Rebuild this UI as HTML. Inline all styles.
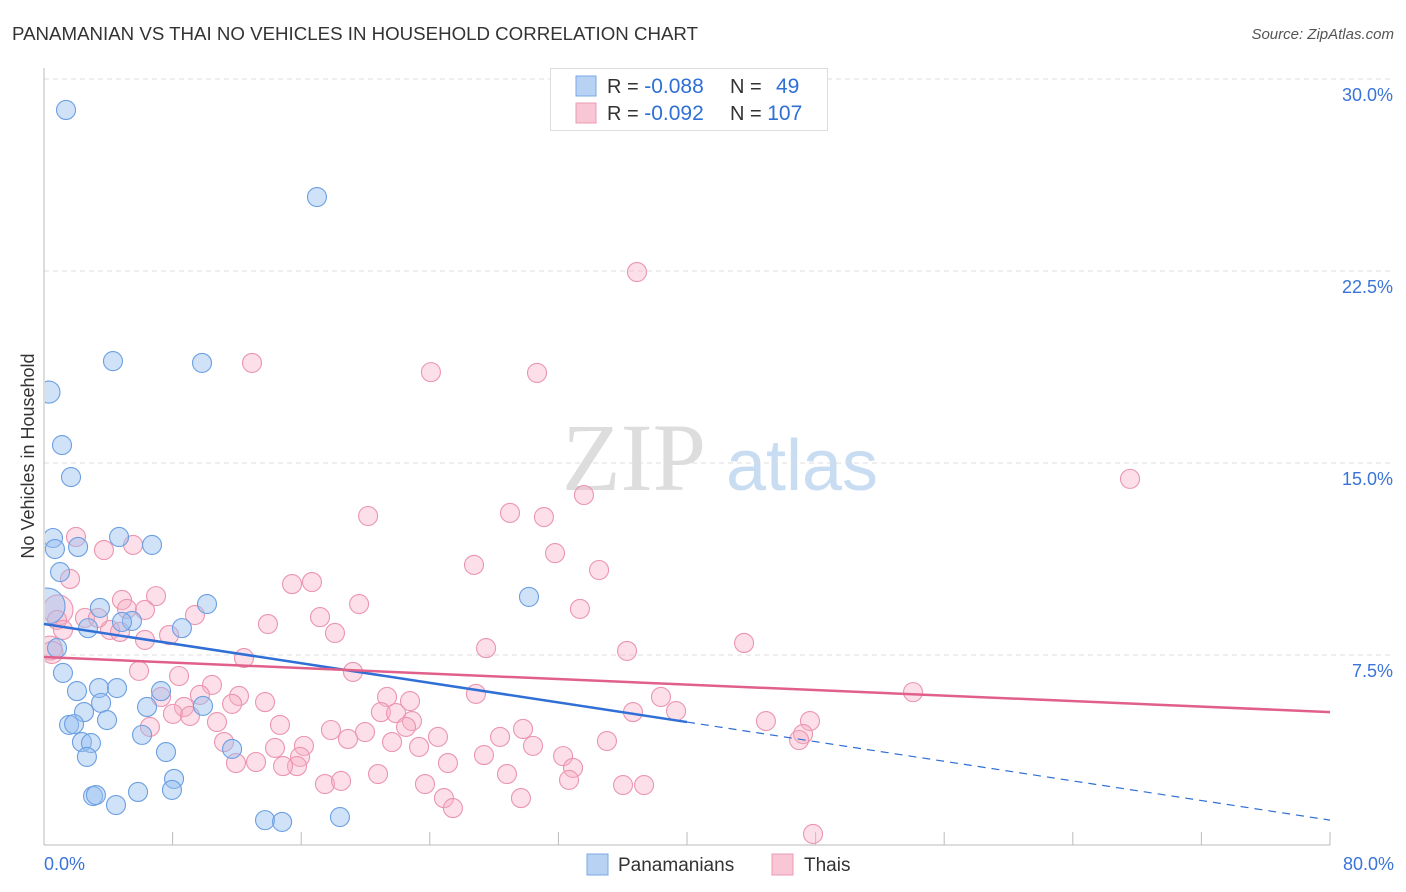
<!DOCTYPE html>
<html><head><meta charset="utf-8"><style>
body{margin:0;background:#fff;font-family:"Liberation Sans",sans-serif;}
svg{display:block}
</style></head><body>
<svg id="chart" width="1406" height="892">
<defs><clipPath id="plotclip"><rect x="45" y="60" width="1360" height="786"/></clipPath></defs>
<text x="12" y="40" font-size="18" fill="#333" textLength="686" lengthAdjust="spacingAndGlyphs">PANAMANIAN VS THAI NO VEHICLES IN HOUSEHOLD CORRELATION CHART</text>
<text x="1394" y="39" font-size="15" fill="#555" font-style="italic" text-anchor="end">Source: ZipAtlas.com</text>
<text transform="translate(34,456) rotate(-90)" font-size="18" fill="#333" text-anchor="middle">No Vehicles in Household</text>
<g>
<text x="634" y="490" font-size="96" font-family="Liberation Serif,serif" fill="#ddd" text-anchor="middle">ZIP</text>
<text x="802" y="490" font-size="72" fill="#c8dcf2" text-anchor="middle">atlas</text>
</g>
<g id="grid"></g><g id="axes"></g><g id="pts" clip-path="url(#plotclip)"></g><g id="lines"></g>
<g>
<rect x="550.5" y="68.5" width="277" height="62" fill="#fff" stroke="#ddd"/>
<rect x="576" y="76" width="20" height="20" fill="#b8d2f4" stroke="#7aa8e6"/>
<rect x="576" y="103" width="20" height="20" fill="#f9c6d5" stroke="#ec9ab2"/>
<text x="607" y="93" font-size="20" fill="#333">R = <tspan fill="#2f6fd6" font-size="21">-0.088</tspan></text>
<text x="730" y="93" font-size="20" fill="#333">N = <tspan fill="#2f6fd6" x="776" font-size="21">49</tspan></text>
<text x="607" y="120" font-size="20" fill="#333">R = <tspan fill="#2f6fd6" font-size="21">-0.092</tspan></text>
<text x="730" y="120" font-size="20" fill="#333">N = <tspan fill="#2f6fd6" font-size="21">107</tspan></text>
</g>
<g>
<rect x="587" y="854" width="21" height="21" fill="#b8d2f4" stroke="#7aa8e6"/>
<text x="618" y="871" font-size="19" fill="#333">Panamanians</text>
<rect x="772" y="854" width="21" height="21" fill="#f9c6d5" stroke="#ec9ab2"/>
<text x="804" y="871" font-size="19" fill="#333">Thais</text>
</g>
</svg>
<script>
const yTicks=[7.5,15,22.5,30];
const yTickLabels=["7.5%","15.0%","22.5%","30.0%"];
const xTickLabels=["0.0%","80.0%"];
const blueX=[1.37,16.98,4.29,9.83,0.31,1.12,1.68,0.56,0.68,2.12,4.67,6.72,1.00,30.17,10.14,3.48,5.47,4.85,2.74,8.58,0.81,1.18,2.05,3.42,4.54,7.28,2.49,3.55,6.41,9.89,1.56,1.87,3.92,6.10,2.36,2.92,7.59,11.70,2.67,8.09,7.96,5.85,3.05,3.23,4.48,13.75,14.81,18.41,0.19];
const blueY=[28.79,25.39,18.98,18.91,17.77,15.70,14.45,12.07,11.64,11.72,12.11,11.80,10.74,9.77,9.49,9.34,8.83,8.79,8.55,8.55,7.77,6.80,6.09,6.21,6.21,6.09,5.27,5.63,5.47,5.51,4.77,4.80,4.96,4.38,4.10,4.06,3.71,3.83,3.52,2.66,2.23,2.15,1.99,2.03,1.64,1.05,0.98,1.17,9.41];
const pinkX=[36.89,12.94,24.07,30.67,67.56,33.59,20.16,28.99,31.10,1.99,3.73,5.54,31.79,26.75,34.53,1.62,15.43,16.67,6.97,4.85,19.60,33.34,5.16,17.17,9.39,2.55,13.93,0.87,4.11,6.28,7.78,18.10,27.50,43.55,36.27,0.37,12.44,5.91,8.40,19.22,10.45,7.28,12.13,9.70,21.34,26.87,38.38,54.06,13.75,22.77,8.71,11.70,8.02,9.08,20.96,21.90,22.89,36.64,39.32,44.91,47.65,10.76,14.68,17.85,6.59,19.97,22.52,16.17,24.51,28.37,29.80,35.02,47.22,46.97,11.20,14.37,18.91,21.65,23.33,27.37,30.42,32.29,11.94,13.19,15.93,15.74,14.87,25.13,32.91,20.78,28.80,17.48,18.48,23.70,32.66,36.02,37.33,24.88,29.67,25.44,47.84,0.81,3.36,4.73,6.28,1.18,0.5];
const pinkY=[22.46,18.91,18.55,18.52,14.38,13.75,12.93,13.05,12.89,12.11,11.60,11.80,11.48,11.02,10.82,10.47,10.27,10.35,9.80,9.65,9.49,9.30,9.30,8.98,9.06,8.95,8.71,9.26,8.48,8.09,8.28,8.36,7.77,7.97,7.66,7.77,7.38,6.88,6.68,6.84,6.33,5.86,5.90,5.94,5.86,5.98,5.86,6.05,5.66,5.70,5.47,5.59,5.20,5.12,5.27,5.23,4.92,5.27,5.31,4.92,4.92,4.88,4.77,4.57,4.69,4.49,4.69,3.95,4.30,4.30,4.61,4.14,4.41,4.18,4.10,3.87,4.22,4.10,3.91,3.59,3.95,3.55,3.28,3.32,3.52,3.16,3.16,3.28,3.09,2.85,2.85,2.46,2.58,2.46,2.62,2.42,2.42,1.91,1.91,1.52,0.51,8.87,8.95,8.40,9.26,8.48,7.6];
const blueTrend=[8.71,1.05];
const blueSolidEnd=40;
const pinkTrend=[7.42,5.27];
const X0=44,X1=1330,Y0=847,PPY=25.6;
const sx=v=>X0+(X1-X0)*v/80, sy=v=>Y0-v*PPY;
const NS="http://www.w3.org/2000/svg";
function mk(tag,attrs,parent){const e=document.createElementNS(NS,tag);for(const k in attrs)e.setAttribute(k,attrs[k]);document.getElementById(parent).appendChild(e);return e;}
yTicks.forEach((t,i)=>{
 const l=mk('line',{x1:X0,x2:1394,y1:sy(t),y2:sy(t),stroke:'#ddd','stroke-dasharray':'5,4'},'grid');
 
 
 const tx=mk('text',{x:1393,y:sy(t)+22,'font-size':18,fill:'#3a74d8','text-anchor':'end'},'grid');
 tx.textContent=yTickLabels[i];
 
 
});
const ax=mk('line',{x1:X0,x2:X0,y1:68,y2:845,stroke:'#bbb'},'axes');


const bx=mk('line',{x1:X0,x2:X1,y1:845,y2:845,stroke:'#bbb'},'axes');


for(let i=0;i<=10;i++){
 const t=mk('line',{x1:sx(i*8),x2:sx(i*8),y1:832,y2:845,stroke:'#bbb'},'axes');
 
 
}
[[0,'start',X0],[1,'end',1394]].forEach(([i,a,x])=>{
 const t=mk('text',{x:x,y:870,'font-size':18,fill:'#3a74d8','text-anchor':a},'axes');
 t.textContent=xTickLabels[i];
 
 
});
function pts(X,Y,fill,stroke,name,bigIdx){
 X.forEach((x,i)=>{
  let r=9.5; if(bigIdx[i])r=bigIdx[i];
  const c=mk('circle',{cx:sx(x),cy:sy(Y[i]),r:r,fill:fill,stroke:stroke,'stroke-width':1.1},'pts');
  
  
 });
}
pts(pinkX,pinkY,'rgba(248,175,198,0.4)','#eb95b0','thais-point',{27:15,35:12,106:11});
pts(blueX,blueY,'rgba(150,190,240,0.45)','#6b9fe2','panamanians-point',{48:18,4:11});
const bl=mk('line',{x1:sx(0),y1:sy(blueTrend[0]),x2:sx(blueSolidEnd),y2:sy(blueTrend[0]+(blueTrend[1]-blueTrend[0])*blueSolidEnd/80),stroke:'#2f6fd6','stroke-width':2.5},'lines');


const bd=mk('line',{x1:sx(blueSolidEnd),y1:sy(blueTrend[0]+(blueTrend[1]-blueTrend[0])*blueSolidEnd/80),x2:sx(80),y2:sy(blueTrend[1]),stroke:'#2f6fd6','stroke-width':1.2,'stroke-dasharray':'8,6'},'lines');


const pl=mk('line',{x1:sx(0),y1:sy(pinkTrend[0]),x2:sx(80),y2:sy(pinkTrend[1]),stroke:'#e0608a','stroke-width':2.5},'lines');


</script>
</body></html>
